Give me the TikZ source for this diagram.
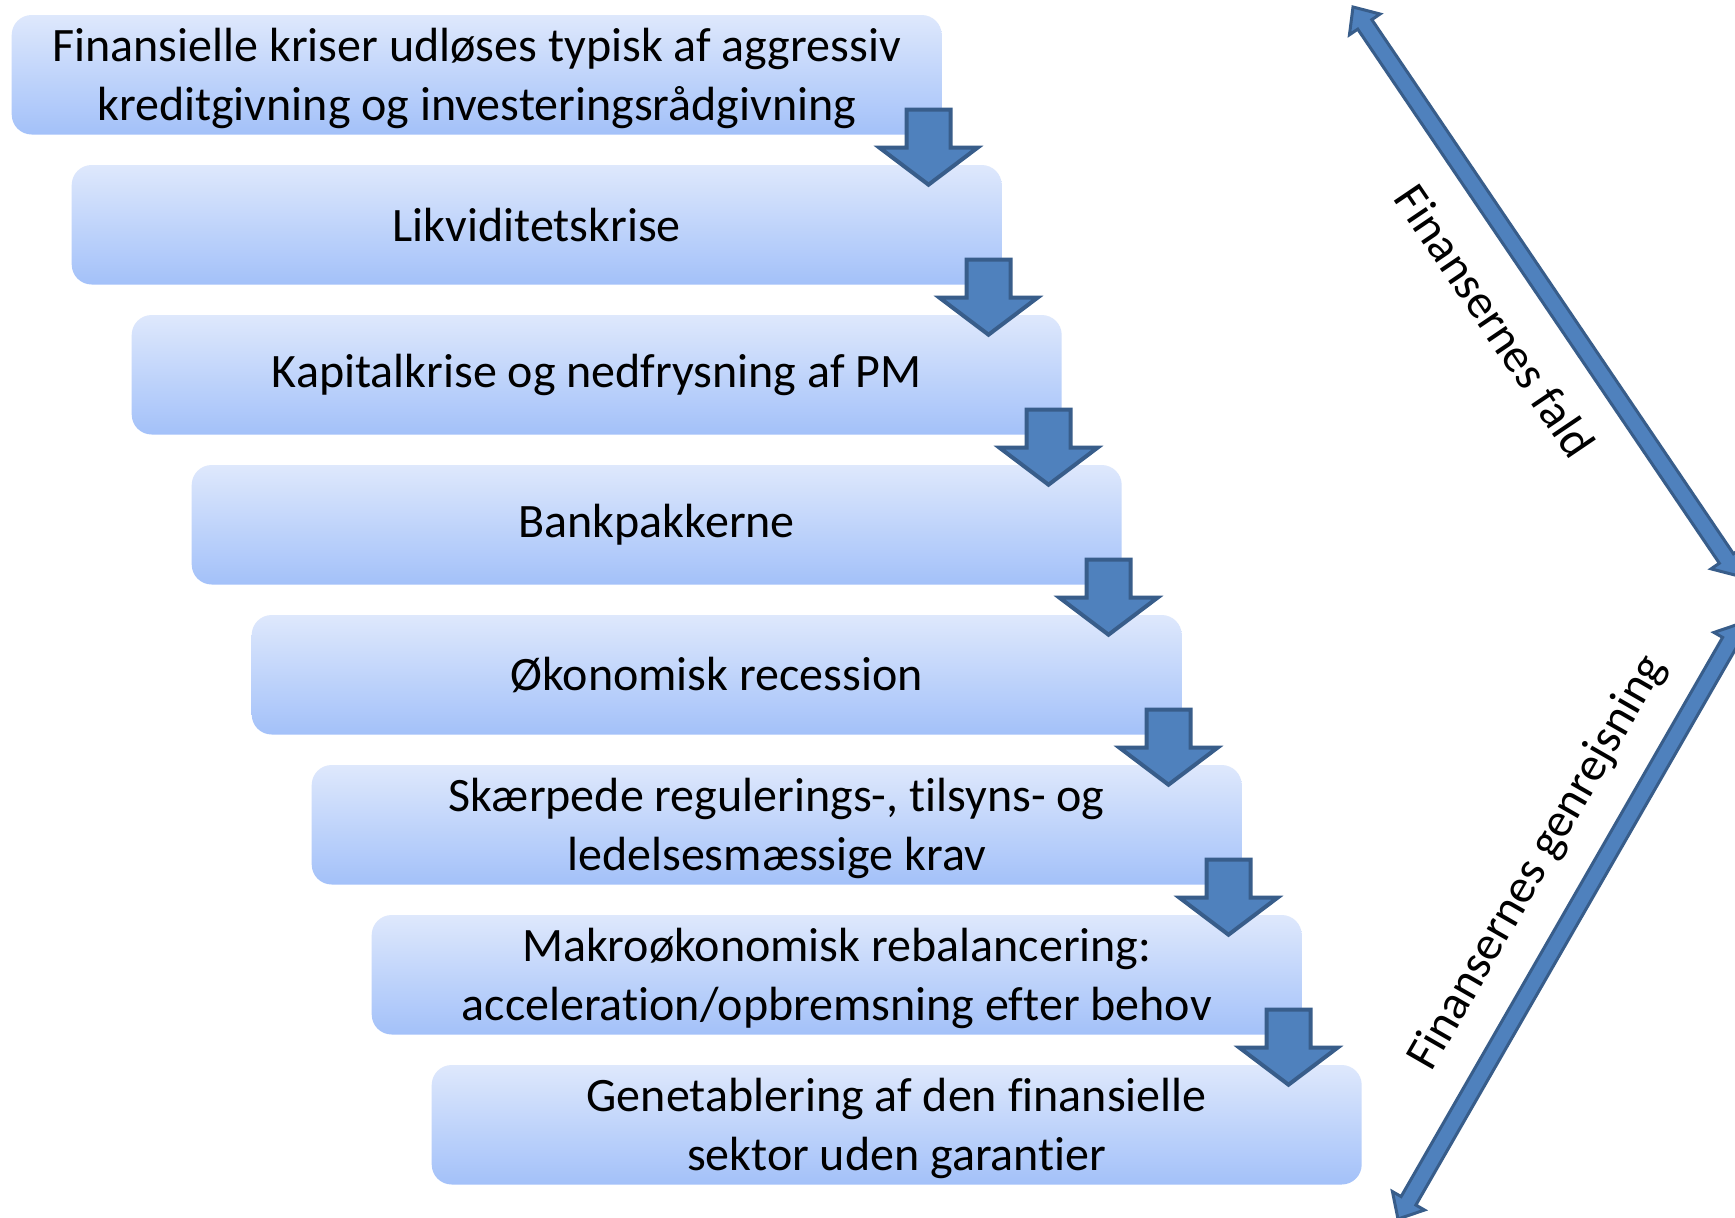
\documentclass[tikz,border=0pt]{standalone}
\usepackage{fontspec}
\setmainfont{Carlito}[Ligatures=NoCommon]
\usetikzlibrary{calc}
\definecolor{arrfill}{RGB}{79,129,189}
\definecolor{arrline}{RGB}{56,93,138}
\definecolor{boxtop}{RGB}{222,232,252}
\definecolor{boxbot}{RGB}{163,193,249}
\tikzset{
  stepbox/.style={rectangle, rounded corners=20pt, top color=boxtop, bottom color=boxbot,
    draw=none, minimum width=930pt, minimum height=119.5pt, inner sep=0pt,
    align=center, font=\fontsize{48}{59.5}\selectfont, text=black},
  boxtext/.style={inner sep=0pt, align=center, font=\fontsize{48}{59.5}\selectfont, text=black},
  blockarrow/.style={fill=arrfill, draw=arrline, line width=4pt, line join=miter},
  dblarrow/.style={fill=arrfill, draw=arrline, line width=3pt, line join=miter},
  sidelabel/.style={font=\fontsize{48}{58.6}\selectfont, inner sep=0pt, text=black},
  downarr/.pic={\path[blockarrow] (-22,-25) -- (22,-25) -- (22,13) -- (49,13) -- (0,50)
     -- (-49,13) -- (-22,13) -- cycle;},
  twoheaded/.pic={\path[dblarrow] (0,0) -- (21,-18.5) -- (21,-8.5) -- (666,-8.5)
     -- (666,-18.5) -- (687,0) -- (666,18.5) -- (666,8.5) -- (21,8.5) -- (21,18.5) -- cycle;}
}
\begin{document}
\begin{tikzpicture}[x=1pt,y=-1pt]
\useasboundingbox (0,0) rectangle (1735,1218);
\clip (0,0) rectangle (1735,1218);
\fill[white] (0,0) rectangle (1735,1218);

\node[stepbox] (b1) at (476.7,74.75) {};
\node[boxtext] (t1) at ($(b1.center)+(0,3.5)$) {Finansielle kriser udløses typisk af aggressiv\\kreditgivning og investeringsrådgivning};
\node[stepbox] (b2) at (536.7,224.75) {Likviditetskrise};
\node[stepbox] (b3) at (596.7,374.75) {Kapitalkrise og nedfrysning af PM};
\node[stepbox] (b4) at (656.7,524.75) {Bankpakkerne};
\node[stepbox] (b5) at (716.7,674.75) {Økonomisk recession};
\node[stepbox] (b6) at (776.7,824.75) {};
\node[boxtext] (t6) at ($(b6.center)+(0,3.5)$) {Skærpede regulerings-, tilsyns- og\\ledelsesmæssige krav};
\node[stepbox] (b7) at (836.7,974.75) {};
\node[boxtext] (t7) at ($(b7.center)+(0,3.5)$) {Makroøkonomisk rebalancering:\\acceleration/opbremsning efter behov};
\node[stepbox] (b8) at (896.7,1124.75) {};
\node[boxtext] (t8) at ($(b8.center)+(0,3.5)$) {Genetablering af den finansielle\\sektor uden garantier};

\foreach \i in {1,...,7}{
  \pic at ($(b\i.south east)+(-13.4,0)$) {downarr};
}

\coordinate (fallTop) at (1353,7);
\coordinate (riseBot) at (1398,1219);
\pic[shift={(fallTop)}, rotate=-55.9] {twoheaded};
\pic[shift={(riseBot)}, rotate=60.1] {twoheaded};

\node[sidelabel, rotate=-55.9] (fald) at (1495.5,321) {Finansernes fald};
\node[sidelabel, rotate=60.1] (rejs) at (1538,863) {Finansernes genrejsning};
\end{tikzpicture}
\end{document}
